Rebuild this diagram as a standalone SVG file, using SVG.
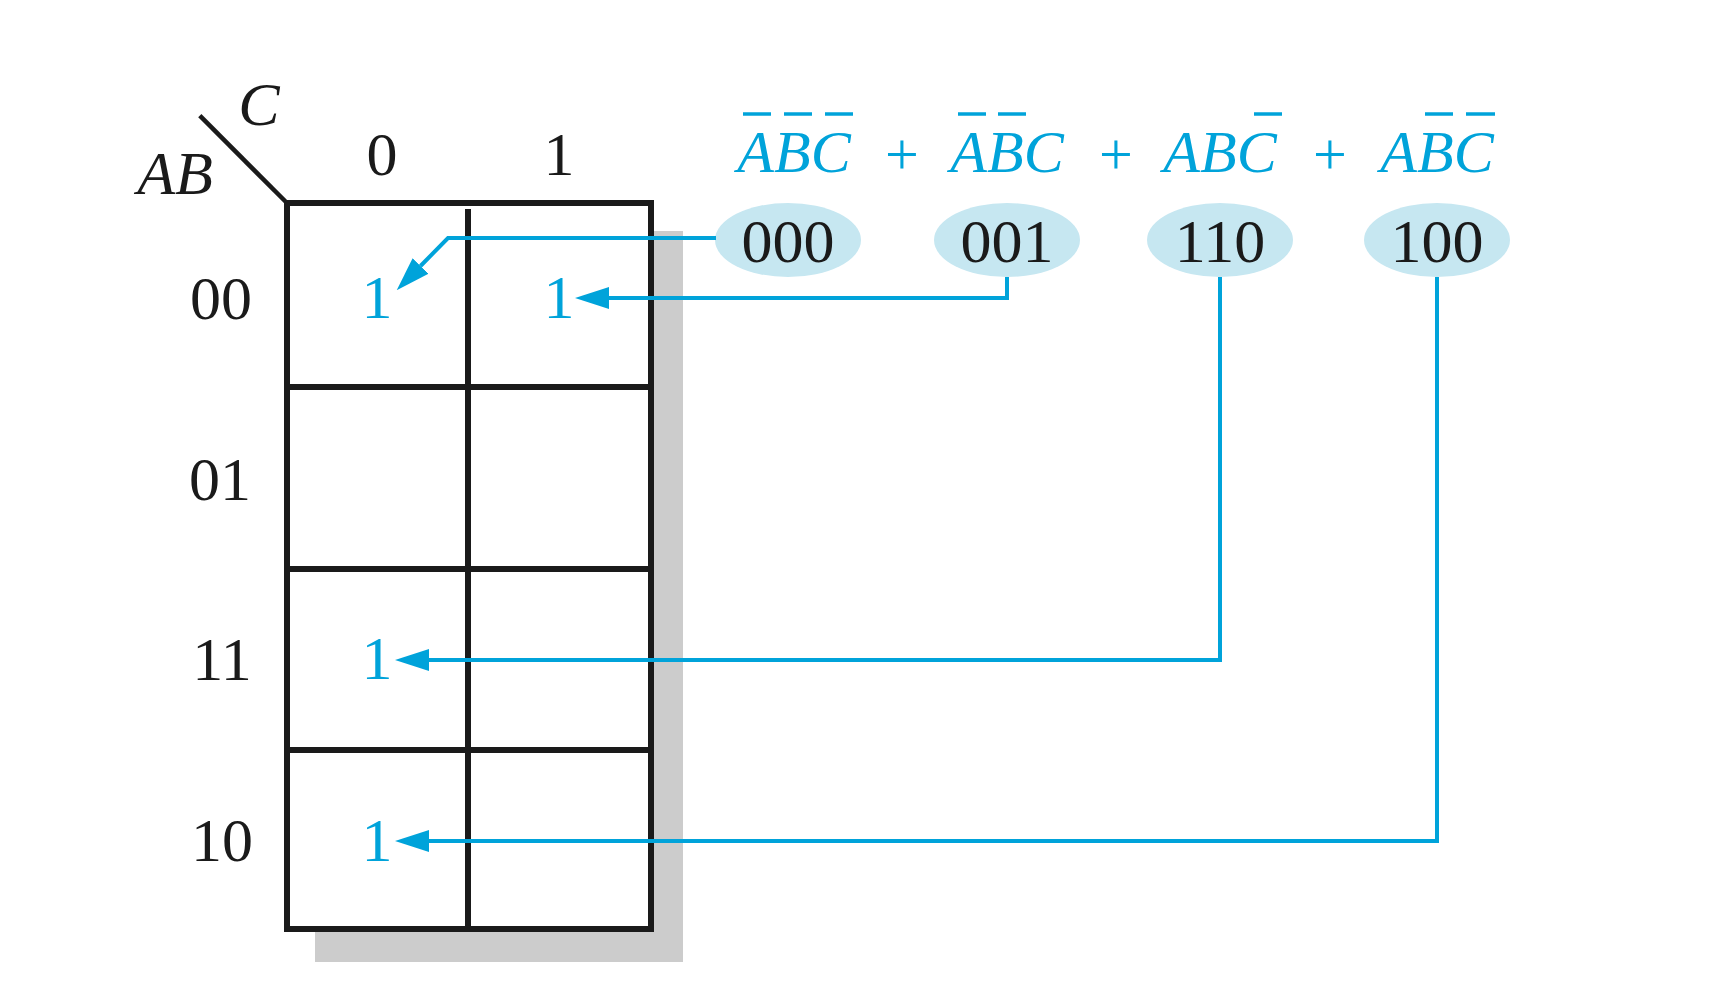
<svg xmlns="http://www.w3.org/2000/svg" width="1712" height="1000" viewBox="0 0 1712 1000">
<style>
.lbl{font-family:"Liberation Serif","Times New Roman",serif;font-size:62px;fill:#1a1a1a;text-anchor:middle}
.it{font-style:italic}
.one{font-family:"Liberation Serif","Times New Roman",serif;font-size:62px;fill:#00a3da;text-anchor:middle}
.term{font-family:"Liberation Serif","Times New Roman",serif;font-size:60px;font-style:italic;fill:#00a3da;text-anchor:middle}
.plus{font-family:"Liberation Serif","Times New Roman",serif;font-size:60px;fill:#00a3da;text-anchor:middle}
.bar{stroke:#00a3da;stroke-width:3.5}
.grid{stroke:#1a1a1a;stroke-width:6;fill:none}
.conn{stroke:#00a3da;stroke-width:4;fill:none}
.oval{fill:#c6e7f1}
</style>
<defs>
<marker id="arr" markerUnits="userSpaceOnUse" viewBox="0 -11 34 22" refX="0" refY="0" markerWidth="34" markerHeight="22" orient="auto">
<path d="M0,-11 L34,0 L0,11 z" fill="#00a3da"/>
</marker>
</defs>
<rect width="1712" height="1000" fill="#ffffff"/>
<g id="kmap">
<rect x="315" y="231" width="368" height="731" fill="#cccccc"/>
<rect x="287" y="203" width="364" height="726" fill="#ffffff"/>
<line class="grid" x1="468" y1="209" x2="468" y2="929"/>
<line class="grid" x1="287" y1="387" x2="651" y2="387"/>
<line class="grid" x1="287" y1="569" x2="651" y2="569"/>
<line class="grid" x1="287" y1="750" x2="651" y2="750"/>
<rect class="grid" x="287" y="203" width="364" height="726"/>
<line stroke="#1a1a1a" stroke-width="4.5" x1="199.8" y1="115.7" x2="287" y2="203"/>
<text class="lbl it" x="259" y="125">C</text>
<text class="lbl it" x="175" y="194">AB</text>
<text class="lbl" x="382" y="175">0</text>
<text class="lbl" x="559" y="175">1</text>
<text class="lbl" x="221" y="319">00</text>
<text class="lbl" x="220" y="500">01</text>
<text class="lbl" x="222" y="680">11</text>
<text class="lbl" x="222" y="861">10</text>
<text class="one" x="377" y="318">1</text>
<text class="one" x="559" y="318">1</text>
<text class="one" x="377" y="679">1</text>
<text class="one" x="377" y="861">1</text>
</g>
<g id="expression">
<text class="term" x="794" y="172">ABC</text>
<text class="plus" x="902" y="174">+</text>
<text class="term" x="1007" y="172">ABC</text>
<text class="plus" x="1116" y="174">+</text>
<text class="term" x="1220" y="172">ABC</text>
<text class="plus" x="1330" y="174">+</text>
<text class="term" x="1437" y="172">ABC</text>
<line class="bar" x1="743" y1="114" x2="771" y2="114"/>
<line class="bar" x1="784" y1="114" x2="812" y2="114"/>
<line class="bar" x1="825" y1="114" x2="853" y2="114"/>
<line class="bar" x1="958" y1="114" x2="986" y2="114"/>
<line class="bar" x1="998" y1="114" x2="1026" y2="114"/>
<line class="bar" x1="1254" y1="114" x2="1282" y2="114"/>
<line class="bar" x1="1425" y1="114" x2="1453" y2="114"/>
<line class="bar" x1="1466" y1="114" x2="1495" y2="114"/>
</g>
<g id="node-000"><ellipse class="oval" cx="788" cy="240" rx="73" ry="37"/><text class="lbl" x="788" y="262">000</text></g>
<g id="node-001"><ellipse class="oval" cx="1007" cy="240" rx="73" ry="37"/><text class="lbl" x="1007" y="262">001</text></g>
<g id="node-110"><ellipse class="oval" cx="1220" cy="240" rx="73" ry="37"/><text class="lbl" x="1220" y="262">110</text></g>
<g id="node-100"><ellipse class="oval" cx="1437" cy="240" rx="73" ry="37"/><text class="lbl" x="1437" y="262">100</text></g>
<g id="connectors">
<polyline class="conn" points="716,238 448,238 420.5,266" marker-end="url(#arr)"/>
<polyline class="conn" points="1007,277 1007,298 609,298" marker-end="url(#arr)"/>
<polyline class="conn" points="1220,277 1220,660 429,660" marker-end="url(#arr)"/>
<polyline class="conn" points="1437,277 1437,841 429,841" marker-end="url(#arr)"/>
</g>
</svg>
